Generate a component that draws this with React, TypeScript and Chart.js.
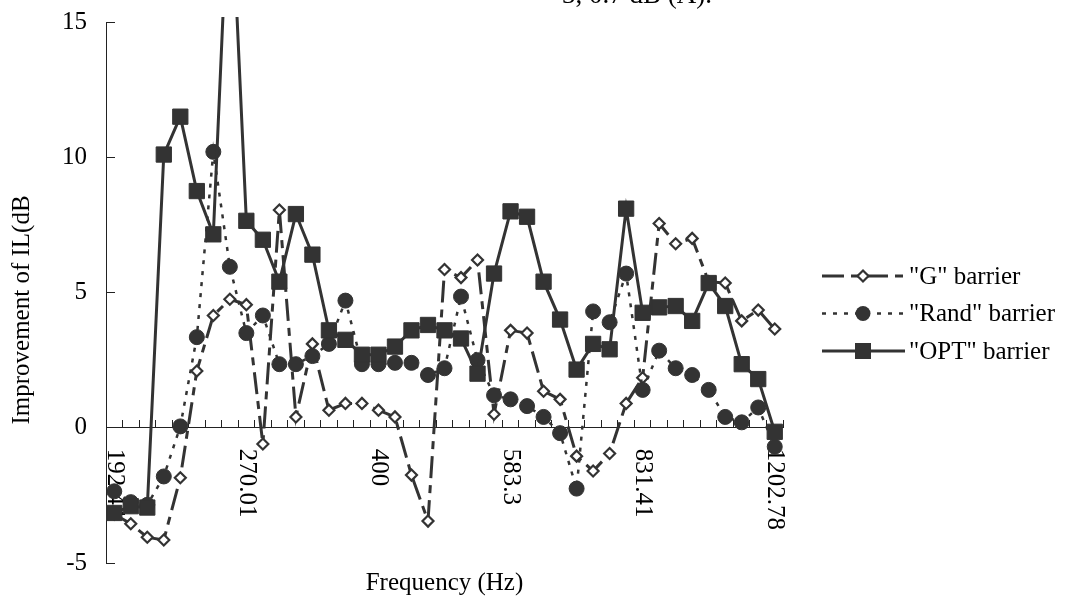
import React, { useEffect, useRef } from 'react';
import { Chart, registerables } from 'chart.js';

Chart.register(...registerables);

// ---- data ----
const shownFrequencies = ['192.44', '270.01', '400', '583.3', '831.41', '1202.78'];
const labelEvery = 8;

const seriesNames = ['"G" barrier', '"Rand" barrier', '"OPT" barrier'];

const gValues = [
  -3.2, -3.55, -4.05, -4.15, -1.85, 2.1, 4.15, 4.75, 4.55, -0.6,
  8.05, 0.4, 3.1, 0.65, 0.9, 0.9, 0.65, 0.4, -1.75, -3.45,
  5.85, 5.55, 6.2, 0.5, 3.6, 3.5, 1.35, 1.05, -1.05, -1.6,
  -0.95, 0.9, 1.85, 7.55, 6.8, 7.0, 5.4, 5.35, 3.95, 4.35, 3.65,
];

const randValues = [
  -2.35, -2.75, -2.85, -1.8, 0.05, 3.35, 10.2, 5.95, 3.5, 4.15,
  2.35, 2.35, 2.65, 3.1, 4.7, 2.35, 2.35, 2.4, 2.4, 1.95,
  2.2, 4.85, 2.5, 1.2, 1.05, 0.8, 0.4, -0.2, -2.25, 4.3,
  3.9, 5.7, 1.4, 2.85, 2.2, 1.95, 1.4, 0.4, 0.2, 0.75, -0.7,
];

const optValues = [
  -3.15, -2.9, -2.95, 10.1, 11.5, 8.75, 7.15, 21, 7.65, 6.95,
  5.4, 7.9, 6.4, 3.6, 3.25, 2.7, 2.7, 3.0, 3.6, 3.8,
  3.6, 3.3, 2.0, 5.7, 8.0, 7.8, 5.4, 4.0, 2.15, 3.1,
  2.9, 8.1, 4.25, 4.45, 4.5, 3.95, 5.35, 4.5, 2.35, 1.8, -0.15,
];

const yTicks = { min: -5, max: 15, step: 5 };

const xTitle = 'Frequency (Hz)';
const yTitle = 'Improvement of IL(dB';
const topFragment = '3, 0.7 dB (A).';

// ---- style ----
const FONT = 'Liberation Serif';
const INK = '#333333';
const AXIS = '#222222';
const TEXT = '#000000';

Chart.defaults.font.family = FONT;

type MarkerKind = 'diamond' | 'circle' | 'square';

function drawMarker(ctx: CanvasRenderingContext2D, kind: MarkerKind, x: number, y: number) {
  ctx.save();
  ctx.setLineDash([]);
  ctx.strokeStyle = INK;
  ctx.fillStyle = INK;
  if (kind === 'diamond') {
    const r = 5.5;
    ctx.beginPath();
    ctx.moveTo(x, y - r);
    ctx.lineTo(x + r, y);
    ctx.lineTo(x, y + r);
    ctx.lineTo(x - r, y);
    ctx.closePath();
    ctx.fillStyle = '#ffffff';
    ctx.fill();
    ctx.lineWidth = 2.2;
    ctx.stroke();
  } else if (kind === 'circle') {
    ctx.beginPath();
    ctx.arc(x, y, 7.5, 0, Math.PI * 2);
    ctx.fill();
  } else {
    ctx.fillRect(x - 8, y - 8, 16, 16);
  }
  ctx.restore();
}

const markerKinds: MarkerKind[] = ['diamond', 'circle', 'square'];

const textPlugin = {
  id: 'textPlugin',
  beforeDatasetsDraw(chart: any) {
    const ctx: CanvasRenderingContext2D = chart.ctx;
    const xs = chart.scales.x;
    const ys = chart.scales.y;
    const y0 = ys.getPixelForValue(0);
    ctx.save();
    ctx.fillStyle = TEXT;
    ctx.font = `25px "${FONT}"`;
    ctx.textAlign = 'left';
    ctx.textBaseline = 'middle';
    const labels: string[] = chart.data.labels;
    labels.forEach((lab, i) => {
      if (!lab) return;
      const x = xs.getPixelForValue(i);
      ctx.save();
      ctx.translate(x, y0 + 21);
      ctx.rotate(Math.PI / 2);
      ctx.fillText(lab, 0, 0);
      ctx.restore();
    });
    ctx.restore();
  },
  afterDraw(chart: any) {
    const ctx: CanvasRenderingContext2D = chart.ctx;
    const area = chart.chartArea;
    ctx.save();
    ctx.fillStyle = TEXT;
    ctx.font = `25px "${FONT}"`;
    ctx.textBaseline = 'alphabetic';

    // x-axis title
    ctx.textAlign = 'center';
    ctx.fillText(xTitle, (area.left + area.right) / 2, 590);

    // y-axis title
    ctx.save();
    ctx.translate(29, 310);
    ctx.rotate(-Math.PI / 2);
    ctx.fillText(yTitle, 0, 0);
    ctx.restore();

    // cut-off title fragment
    ctx.save();
    ctx.font = `27px "${FONT}"`;
    ctx.textAlign = 'center';
    ctx.fillText(topFragment, 637, 3);
    ctx.restore();

    // legend
    chart.data.datasets.forEach((ds: any, i: number) => {
      const y = 276 + i * 37.5;
      ctx.save();
      ctx.strokeStyle = INK;
      ctx.lineWidth = ds.borderWidth;
      ctx.setLineDash(ds.borderDash || []);
      ctx.beginPath();
      ctx.moveTo(822, y);
      ctx.lineTo(905, y);
      ctx.stroke();
      ctx.restore();
      drawMarker(ctx, markerKinds[i], 863, y);
      ctx.save();
      ctx.fillStyle = TEXT;
      ctx.font = `25px "${FONT}"`;
      ctx.textAlign = 'left';
      ctx.textBaseline = 'middle';
      ctx.fillText(ds.label, 909, y + 1);
      ctx.restore();
    });
    ctx.restore();
  },
};

export default function App() {
  const ref = useRef<HTMLCanvasElement>(null);

  useEffect(() => {
    if (!ref.current) return;
    const labels = gValues.map((_, i) =>
      i % labelEvery === 0 ? shownFrequencies[i / labelEvery] ?? '' : ''
    );
    const chart = new Chart(ref.current, {
      type: 'line',
      data: {
        labels,
        datasets: [
          {
            label: seriesNames[0],
            data: gValues,
            borderColor: INK,
            borderWidth: 3,
            borderDash: [22, 7, 8, 7],
            pointStyle: 'rectRot',
            pointRadius: 5.5,
            pointBorderWidth: 2.2,
            pointBackgroundColor: '#ffffff',
            pointBorderColor: INK,
            tension: 0,
            order: 3,
            clip: 5,
          },
          {
            label: seriesNames[1],
            data: randValues,
            borderColor: INK,
            borderWidth: 2.5,
            borderDash: [4, 7],
            pointStyle: 'circle',
            pointRadius: 7.5,
            pointBorderWidth: 1,
            pointBackgroundColor: INK,
            pointBorderColor: INK,
            tension: 0,
            order: 2,
            clip: 5,
          },
          {
            label: seriesNames[2],
            data: optValues,
            borderColor: INK,
            borderWidth: 3,
            pointStyle: 'rect',
            pointRadius: 10.8,
            pointBorderWidth: 1,
            pointBackgroundColor: INK,
            pointBorderColor: INK,
            tension: 0,
            order: 1,
            clip: 5,
          },
        ],
      } as any,
      options: {
        responsive: false,
        animation: false,
        events: [],
        layout: { padding: { left: 0, top: 22, right: 284, bottom: 36 } },
        plugins: {
          legend: { display: false },
          tooltip: { enabled: false },
          title: { display: false },
        },
        scales: {
          x: {
            type: 'category',
            position: { y: 0 },
            offset: true,
            grid: {
              offset: true,
              drawOnChartArea: false,
              drawTicks: true,
              tickLength: -8,
              color: AXIS,
              lineWidth: 1,
            },
            border: { color: AXIS, width: 1 },
            ticks: { display: false },
            afterFit: (s: any) => {
              s.height = 0;
              s.paddingLeft = 0;
              s.paddingRight = 0;
              s.paddingTop = 0;
              s.paddingBottom = 0;
            },
          },
          y: {
            min: yTicks.min,
            max: yTicks.max,
            ticks: {
              stepSize: yTicks.step,
              font: { size: 25, family: FONT },
              color: TEXT,
              padding: 28,
            },
            grid: {
              drawOnChartArea: false,
              drawTicks: true,
              tickLength: -9,
              color: AXIS,
              lineWidth: 1,
            },
            border: { color: AXIS, width: 1 },
            afterFit: (s: any) => {
              s.width = 106;
              s.paddingTop = 0;
              s.paddingBottom = 0;
              s.paddingLeft = 0;
              s.paddingRight = 0;
            },
          },
        },
      } as any,
      plugins: [textPlugin],
    });
    return () => chart.destroy();
  }, []);

  return (
    <div
      style={{
        position: 'fixed',
        left: 0,
        top: 0,
        width: 1067,
        height: 599,
        background: '#ffffff',
      }}
    >
      <canvas ref={ref} width={1067} height={599} />
    </div>
  );
}
